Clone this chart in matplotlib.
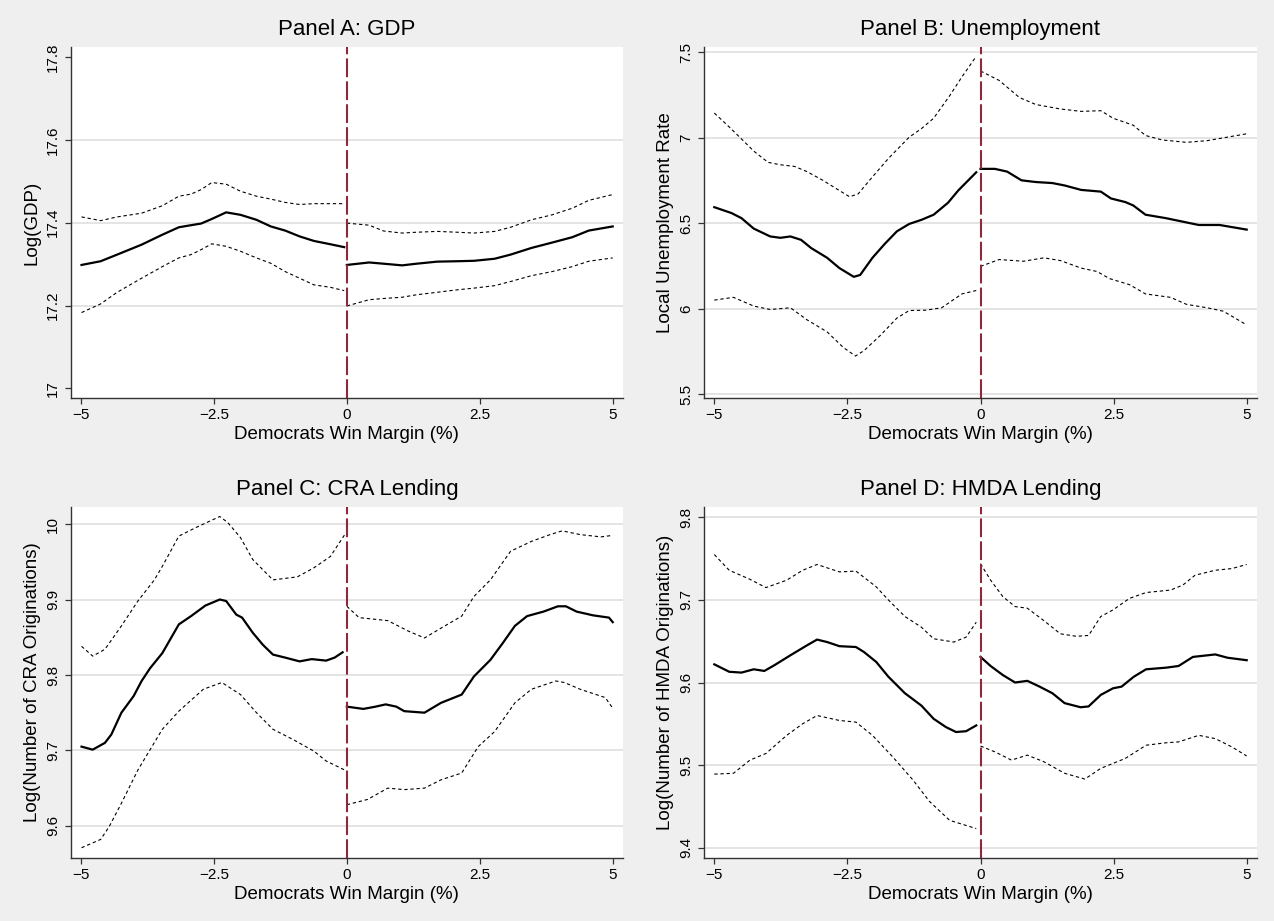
import matplotlib
matplotlib.use('Agg')
import matplotlib.pyplot as plt

plt.rcParams['font.family'] = ['Liberation Sans', 'DejaVu Sans']

# ---------------- Panel A: GDP ----------------
gdp_lx = [-4.99, -4.63, -4.32, -3.86, -3.47, -3.16, -2.93, -2.74, -2.54, -2.27, -2.00, -1.70, -1.43, -1.16, -0.89, -0.62, -0.31, -0.05]
gdp_l = [17.298, 17.307, 17.323, 17.347, 17.371, 17.389, 17.394, 17.398, 17.409, 17.425, 17.419, 17.407, 17.391, 17.381, 17.367, 17.356, 17.348, 17.341]
gdp_lhi = [17.414, 17.405, 17.414, 17.423, 17.441, 17.464, 17.469, 17.480, 17.497, 17.493, 17.476, 17.464, 17.457, 17.449, 17.444, 17.446, 17.446, 17.446]
gdp_llo = [17.183, 17.204, 17.232, 17.266, 17.294, 17.315, 17.323, 17.335, 17.349, 17.343, 17.331, 17.315, 17.302, 17.282, 17.266, 17.250, 17.244, 17.236]
gdp_rx = [0.0, 0.42, 0.69, 1.04, 1.31, 1.70, 2.08, 2.39, 2.78, 3.08, 3.47, 3.86, 4.24, 4.55, 5.0]
gdp_r = [17.298, 17.304, 17.301, 17.297, 17.301, 17.306, 17.307, 17.308, 17.313, 17.323, 17.339, 17.352, 17.365, 17.381, 17.391]
gdp_rhi = [17.399, 17.394, 17.380, 17.375, 17.377, 17.379, 17.377, 17.375, 17.379, 17.389, 17.407, 17.419, 17.435, 17.454, 17.468]
gdp_rlo = [17.199, 17.214, 17.217, 17.220, 17.226, 17.232, 17.238, 17.242, 17.248, 17.258, 17.272, 17.282, 17.294, 17.307, 17.315]

# ---------------- Panel B: Unemployment ----------------
un_lx = [-5.0, -4.68, -4.49, -4.26, -3.95, -3.76, -3.57, -3.37, -3.18, -2.88, -2.65, -2.38, -2.26, -2.03, -1.80, -1.57, -1.34, -1.11, -0.88, -0.61, -0.42, -0.08]
un_l = [6.593, 6.559, 6.529, 6.468, 6.422, 6.414, 6.422, 6.402, 6.354, 6.297, 6.237, 6.186, 6.197, 6.297, 6.378, 6.452, 6.495, 6.519, 6.549, 6.619, 6.690, 6.797]
un_hix = [-5.0, -4.72, -4.49, -4.26, -3.99, -3.76, -3.49, -3.26, -2.96, -2.65, -2.46, -2.30, -2.03, -1.72, -1.34, -1.11, -0.88, -0.58, -0.35, -0.08]
un_hi = [7.143, 7.062, 6.992, 6.921, 6.855, 6.841, 6.831, 6.801, 6.750, 6.690, 6.654, 6.670, 6.770, 6.881, 7.002, 7.052, 7.113, 7.244, 7.354, 7.475]
un_lox = [-5.0, -4.64, -4.26, -3.95, -3.57, -3.26, -2.88, -2.58, -2.35, -2.19, -1.88, -1.57, -1.34, -1.03, -0.73, -0.35, -0.08]
un_lo = [6.050, 6.066, 6.015, 5.995, 6.005, 5.935, 5.864, 5.774, 5.723, 5.754, 5.844, 5.945, 5.989, 5.991, 6.005, 6.086, 6.106]
un_rx = [0.0, 0.27, 0.50, 0.77, 1.04, 1.35, 1.58, 1.89, 2.26, 2.45, 2.72, 2.87, 3.10, 3.48, 3.79, 4.10, 4.49, 5.0]
un_r = [6.817, 6.817, 6.801, 6.750, 6.740, 6.734, 6.720, 6.694, 6.684, 6.644, 6.623, 6.603, 6.549, 6.529, 6.509, 6.489, 6.489, 6.462]
un_rhix = [0.0, 0.35, 0.73, 1.04, 1.50, 1.89, 2.26, 2.49, 2.87, 3.10, 3.41, 3.87, 4.26, 5.0]
un_rhi = [7.389, 7.334, 7.234, 7.193, 7.167, 7.153, 7.157, 7.113, 7.072, 7.012, 6.986, 6.972, 6.982, 7.022]
un_rlox = [0.0, 0.35, 0.81, 1.19, 1.50, 1.89, 2.19, 2.42, 2.80, 3.10, 3.57, 3.87, 4.26, 4.56, 5.0]
un_rlo = [6.247, 6.287, 6.277, 6.297, 6.281, 6.237, 6.217, 6.176, 6.140, 6.086, 6.066, 6.025, 6.005, 5.985, 5.905]

# ---------------- Panel C: CRA Lending ----------------
cra_lx = [-4.99, -4.78, -4.55, -4.43, -4.24, -4.01, -3.86, -3.70, -3.47, -3.16, -2.93, -2.66, -2.39, -2.27, -2.08, -1.97, -1.77, -1.58, -1.39, -1.16, -0.89, -0.66, -0.39, -0.23, -0.08]
cra_l = [9.705, 9.701, 9.710, 9.721, 9.750, 9.772, 9.792, 9.809, 9.829, 9.867, 9.878, 9.892, 9.900, 9.898, 9.880, 9.876, 9.856, 9.840, 9.827, 9.823, 9.818, 9.821, 9.819, 9.823, 9.830]
cra_hix = [-4.99, -4.78, -4.55, -4.24, -3.93, -3.62, -3.47, -3.16, -2.85, -2.39, -2.24, -2.00, -1.77, -1.39, -0.93, -0.62, -0.31, -0.04]
cra_hi = [9.838, 9.825, 9.834, 9.865, 9.898, 9.926, 9.944, 9.984, 9.995, 10.010, 10.002, 9.982, 9.953, 9.926, 9.930, 9.942, 9.957, 9.986]
cra_lox = [-4.99, -4.63, -4.47, -4.24, -3.93, -3.70, -3.47, -3.16, -2.70, -2.35, -2.00, -1.70, -1.39, -1.00, -0.62, -0.39, -0.04]
cra_lo = [9.571, 9.582, 9.599, 9.630, 9.674, 9.701, 9.728, 9.752, 9.781, 9.790, 9.774, 9.750, 9.728, 9.714, 9.699, 9.686, 9.674]
cra_rx = [0.0, 0.31, 0.54, 0.73, 0.93, 1.08, 1.46, 1.77, 2.16, 2.39, 2.70, 2.93, 3.16, 3.39, 3.70, 3.97, 4.12, 4.32, 4.63, 4.93, 5.0]
cra_r = [9.758, 9.755, 9.758, 9.761, 9.758, 9.752, 9.750, 9.763, 9.774, 9.798, 9.820, 9.842, 9.865, 9.878, 9.884, 9.891, 9.891, 9.884, 9.879, 9.876, 9.870]
cra_rhix = [0.0, 0.23, 0.77, 1.16, 1.46, 1.77, 2.16, 2.39, 2.70, 3.08, 3.47, 3.82, 4.05, 4.39, 4.78, 5.0]
cra_rhi = [9.891, 9.876, 9.872, 9.858, 9.849, 9.862, 9.878, 9.904, 9.926, 9.964, 9.977, 9.986, 9.991, 9.986, 9.983, 9.985]
cra_rlox = [0.0, 0.39, 0.77, 1.08, 1.46, 1.77, 2.16, 2.47, 2.78, 3.16, 3.47, 3.93, 4.09, 4.39, 4.86, 5.0]
cra_rlo = [9.628, 9.635, 9.650, 9.648, 9.650, 9.661, 9.670, 9.705, 9.725, 9.763, 9.781, 9.792, 9.790, 9.781, 9.770, 9.756]

# ---------------- Panel D: HMDA Lending ----------------
hm_lx = [-5.0, -4.72, -4.49, -4.26, -4.06, -3.87, -3.57, -3.26, -3.07, -2.88, -2.65, -2.34, -2.19, -1.96, -1.73, -1.42, -1.11, -0.88, -0.65, -0.46, -0.27, -0.08]
hm_l = [9.622, 9.613, 9.612, 9.616, 9.614, 9.621, 9.633, 9.645, 9.652, 9.649, 9.644, 9.643, 9.637, 9.625, 9.607, 9.587, 9.572, 9.556, 9.546, 9.540, 9.541, 9.548]
hm_hix = [-5.0, -4.72, -4.33, -4.03, -3.64, -3.34, -3.07, -2.65, -2.34, -1.96, -1.73, -1.42, -1.11, -0.88, -0.50, -0.27, -0.08]
hm_hi = [9.755, 9.736, 9.725, 9.715, 9.724, 9.736, 9.743, 9.734, 9.735, 9.716, 9.700, 9.680, 9.667, 9.653, 9.649, 9.655, 9.673]
hm_lox = [-5.0, -4.64, -4.33, -4.03, -3.64, -3.34, -3.07, -2.65, -2.34, -2.03, -1.65, -1.27, -0.96, -0.58, -0.08]
hm_lo = [9.489, 9.490, 9.506, 9.514, 9.536, 9.550, 9.560, 9.554, 9.552, 9.536, 9.510, 9.482, 9.456, 9.433, 9.423]
hm_rx = [0.0, 0.19, 0.42, 0.65, 0.88, 1.11, 1.35, 1.58, 1.88, 2.03, 2.26, 2.49, 2.65, 2.88, 3.11, 3.49, 3.72, 3.99, 4.41, 4.64, 5.0]
hm_r = [9.631, 9.620, 9.609, 9.600, 9.602, 9.595, 9.587, 9.575, 9.570, 9.571, 9.585, 9.593, 9.595, 9.607, 9.616, 9.618, 9.620, 9.631, 9.634, 9.630, 9.627]
hm_rhix = [0.0, 0.19, 0.42, 0.65, 0.88, 1.19, 1.50, 1.80, 2.03, 2.26, 2.49, 2.80, 3.11, 3.57, 3.80, 4.03, 4.41, 4.72, 5.0]
hm_rhi = [9.744, 9.724, 9.704, 9.692, 9.690, 9.675, 9.659, 9.656, 9.657, 9.680, 9.688, 9.702, 9.709, 9.712, 9.718, 9.730, 9.736, 9.738, 9.743]
hm_rlox = [0.0, 0.27, 0.58, 0.88, 1.19, 1.58, 1.96, 2.26, 2.49, 2.72, 3.11, 3.49, 3.72, 4.10, 4.41, 4.72, 5.0]
hm_rlo = [9.523, 9.516, 9.506, 9.512, 9.504, 9.490, 9.483, 9.496, 9.502, 9.508, 9.524, 9.527, 9.528, 9.536, 9.532, 9.522, 9.511]

titles = ['Panel A: GDP', 'Panel B: Unemployment', 'Panel C: CRA Lending', 'Panel D: HMDA Lending']
ylabels = ['Log(GDP)', 'Local Unemployment Rate', 'Log(Number of CRA Originations)', 'Log(Number of HMDA Originations)']
yticks = [[17, 17.2, 17.4, 17.6, 17.8], [5.5, 6, 6.5, 7, 7.5], [9.6, 9.7, 9.8, 9.9, 10], [9.4, 9.5, 9.6, 9.7, 9.8]]
yticklabels = [['17', '17.2', '17.4', '17.6', '17.8'], ['5.5', '6', '6.5', '7', '7.5'],
               ['9.6', '9.7', '9.8', '9.9', '10'], ['9.4', '9.5', '9.6', '9.7', '9.8']]
ylims = [(16.976, 17.825), (5.476, 7.531), (9.557, 10.023), (9.387, 9.813)]
gridticks = [[17.2, 17.4, 17.6], [5.5, 6, 6.5, 7, 7.5], [9.6, 9.7, 9.8, 9.9, 10], [9.4, 9.5, 9.6, 9.7, 9.8]]
xticks = [-5, -2.5, 0, 2.5, 5]
xticklabels = ['\u22125', '\u22122.5', '0', '2.5', '5']

series = [
    [(gdp_lx, gdp_l), (gdp_lx, gdp_lhi), (gdp_lx, gdp_llo), (gdp_rx, gdp_r), (gdp_rx, gdp_rhi), (gdp_rx, gdp_rlo)],
    [(un_lx, un_l), (un_hix, un_hi), (un_lox, un_lo), (un_rx, un_r), (un_rhix, un_rhi), (un_rlox, un_rlo)],
    [(cra_lx, cra_l), (cra_hix, cra_hi), (cra_lox, cra_lo), (cra_rx, cra_r), (cra_rhix, cra_rhi), (cra_rlox, cra_rlo)],
    [(hm_lx, hm_l), (hm_hix, hm_hi), (hm_lox, hm_lo), (hm_rx, hm_r), (hm_rhix, hm_rhi), (hm_rlox, hm_rlo)],
]

bg = '#efefef'
fig = plt.figure(figsize=(12.74, 9.21), dpi=100, facecolor=bg)

# axes boxes in pixels: left, top, right, bottom
boxes = [(71, 46.7, 622.7, 398.3), (704.3, 46.7, 1256.7, 398.3),
         (71, 506.7, 622.7, 858.3), (704.3, 506.7, 1256.7, 858.3)]
W, H = 1274.0, 921.0

for i in range(4):
    l, t, r, b = boxes[i]
    ax = fig.add_axes([l / W, 1 - b / H, (r - l) / W, (b - t) / H])
    ax.set_facecolor('white')
    for s in ['top', 'right']:
        ax.spines[s].set_visible(False)
    for s in ['left', 'bottom']:
        ax.spines[s].set_color('#333333')
        ax.spines[s].set_linewidth(1.0)

    for g in gridticks[i]:
        ax.axhline(g, color='#dcdcdc', lw=1.1, zorder=0)

    for k, (xs, ys) in enumerate(series[i]):
        if k % 3 == 0:
            ax.plot(xs, ys, color='black', lw=1.6, zorder=3)
        else:
            ax.plot(xs, ys, color='black', lw=0.8, dashes=(3, 2.5), zorder=3)

    ax.axvline(0, color='#90283a', lw=1.5, dashes=(9, 2), zorder=4)

    ax.set_xlim(-5.188, 5.188)
    ax.set_ylim(*ylims[i])
    ax.set_xticks(xticks)
    ax.set_xticklabels(xticklabels)
    ax.set_yticks(yticks[i])
    ax.set_yticklabels(yticklabels[i], rotation=90, va='center')
    ax.tick_params(axis='both', direction='out', length=4, width=0.9, color='#333333',
                   labelsize=11, labelcolor='black')
    ax.tick_params(axis='x', pad=3)
    ax.tick_params(axis='y', pad=4)

    ax.set_xlabel('Democrats Win Margin (%)', fontsize=13.5)
    ax.xaxis.set_label_coords(0.5, -0.103)
    ax.xaxis.label.set_va('center')
    ax.set_ylabel(ylabels[i], fontsize=13.5)
    ax.yaxis.set_label_coords(-0.07, 0.5)
    ax.yaxis.label.set_va('center')

    ax.text(0.5, 1.0475, titles[i], transform=ax.transAxes, ha='center', va='center', fontsize=16)

fig.savefig('out.png', dpi=100, facecolor=bg)
